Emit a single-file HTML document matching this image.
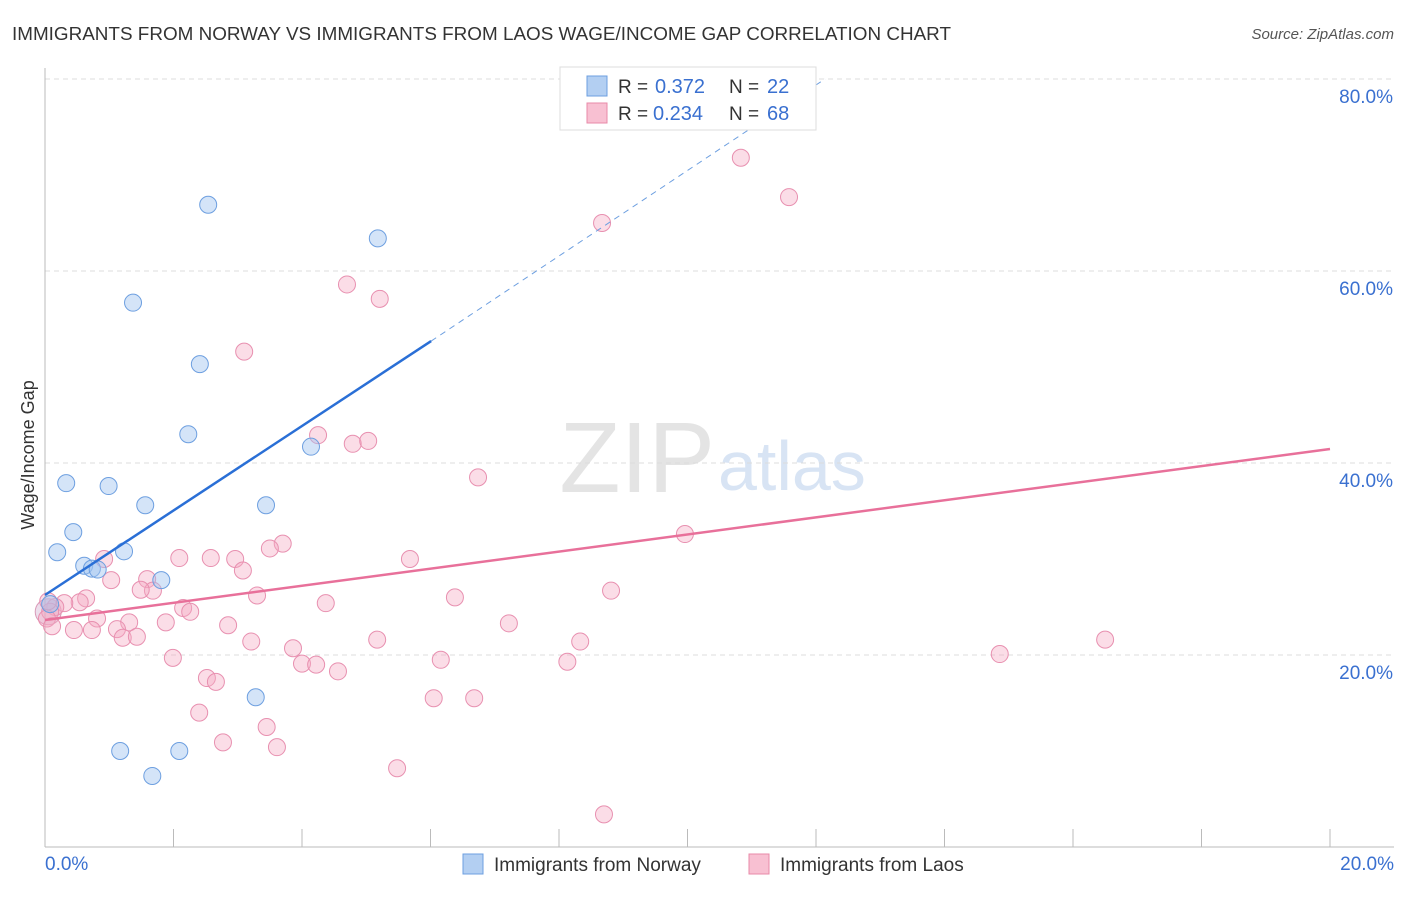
<!DOCTYPE html>
<html><head><meta charset="utf-8"><style>
body{margin:0;background:#fff;font-family:"Liberation Sans",sans-serif;}
svg text{font-family:"Liberation Sans",sans-serif;}
</style></head><body>
<svg width="1406" height="892" id="c">
<text x="12" y="40" font-size="18" fill="#333" textLength="939" lengthAdjust="spacingAndGlyphs">IMMIGRANTS FROM NORWAY VS IMMIGRANTS FROM LAOS WAGE/INCOME GAP CORRELATION CHART</text>
<text x="1394" y="39" font-size="15" fill="#555" font-style="italic" text-anchor="end">Source: ZipAtlas.com</text>
<text x="715" y="492" font-size="100" fill="#e4e4e4" font-family="Liberation Serif" text-anchor="end">ZIP</text>
<text x="718" y="490" font-size="70" fill="#d8e4f4">atlas</text>
<text transform="translate(34,455) rotate(-90)" font-size="18" fill="#333" text-anchor="middle">Wage/Income Gap</text>
<g id="grid"></g><g id="pts"></g><g id="lines"></g>
<g>
<rect x="560" y="67" width="256" height="63" fill="#fff" stroke="#ddd"/>
<rect x="587" y="76" width="20" height="20" fill="#b3cff2" stroke="#6d9fe0"/>
<rect x="587" y="103" width="20" height="20" fill="#f8c0d2" stroke="#e88aa8"/>
<text x="618" y="93" font-size="19" fill="#333">R =</text><text x="655" y="93" font-size="20" fill="#3a70d0">0.372</text>
<text x="729" y="93" font-size="19" fill="#333">N =</text><text x="767" y="93" font-size="20" fill="#3a70d0">22</text>
<text x="618" y="120" font-size="19" fill="#333">R =</text><text x="653" y="120" font-size="20" fill="#3a70d0">0.234</text>
<text x="729" y="120" font-size="19" fill="#333">N =</text><text x="767" y="120" font-size="20" fill="#3a70d0">68</text>
</g>
<g>
<rect x="463" y="854" width="20" height="20" fill="#b3cff2" stroke="#6d9fe0"/>
<text x="494" y="871" font-size="19" fill="#333">Immigrants from Norway</text>
<rect x="749" y="854" width="20" height="20" fill="#f8c0d2" stroke="#e88aa8"/>
<text x="780" y="871" font-size="19" fill="#333">Immigrants from Laos</text>
</g>
</svg>
<script>
const yTicks=[20,40,60,80];
const xTickLabels=["0.0%","20.0%"];
const norwayX=[0.33,0.19,0.44,0.61,0.73,0.82,0.99,1.23,1.37,1.56,1.81,2.23,2.41,2.54,3.44,4.14,5.18,3.28,1.17,2.09,1.67,0.08];
const norwayY=[37.9,30.7,32.8,29.3,29.0,28.9,37.6,30.8,56.7,35.6,27.8,43.0,50.3,66.9,35.6,41.7,63.4,15.6,10.0,10.0,7.4,25.3];
const laosX=[10.83,11.58,8.67,4.70,5.21,3.10,4.25,4.79,5.03,6.74,9.96,5.68,3.70,3.50,2.96,2.58,2.09,0.92,3.08,1.59,1.03,1.68,1.49,3.30,4.37,6.38,8.81,0.64,0.54,0.30,0.16,0.08,2.15,2.26,0.81,1.88,1.31,0.45,0.73,1.12,1.21,1.43,2.85,7.22,3.21,5.17,8.33,16.50,14.86,3.86,1.99,6.16,8.13,4.00,4.22,4.56,2.52,2.66,2.40,3.45,2.77,3.61,6.05,6.68,5.48,8.70,0.03,0.11,0.05];
const laosY=[71.8,67.7,65.0,58.6,57.1,51.6,42.9,42.0,42.3,38.5,32.6,30.0,31.6,31.1,30.0,30.1,30.1,30.0,28.8,27.9,27.8,26.7,26.8,26.2,25.4,26.0,26.7,25.9,25.5,25.4,25.0,24.5,24.9,24.5,23.8,23.4,23.4,22.6,22.6,22.7,21.8,21.9,23.1,23.3,21.4,21.6,21.4,21.6,20.1,20.7,19.7,19.5,19.3,19.1,19.0,18.3,17.6,17.2,14.0,12.5,10.9,10.4,15.5,15.5,8.2,3.4,23.8,23.0,25.6];
const norwayFit=[[0,26.25],[6.01,52.7]],norwayExt=[[6.01,52.7],[12.14,80]];
const laosFit=[[0,23.65],[20,41.46]];
const X=v=>45+v*64.25, Y=v=>847-v*9.6;
const NS="http://www.w3.org/2000/svg";
function mk(t,a,p){const e=document.createElementNS(NS,t);for(const k in a)e.setAttribute(k,a[k]);p.appendChild(e);return e;}
const g=document.getElementById('grid');
yTicks.forEach(t=>{
 const l=mk('line',{x1:45,x2:1394,y1:Y(t),y2:Y(t),stroke:'#ddd','stroke-dasharray':'5,4'},g);
 
 
 const tx=mk('text',{x:1393,y:Y(t)+24,'font-size':19,fill:'#3a70d0','text-anchor':'end'},g);tx.textContent=t.toFixed(1)+'%';
 
 
});
mk('line',{x1:45,x2:45,y1:68,y2:847,stroke:'#bbb'},g);
mk('line',{x1:45,x2:1394,y1:847,y2:847,stroke:'#bbb'},g);
for(let i=1;i<=10;i++){mk('line',{x1:X(i*2),x2:X(i*2),y1:829,y2:847,stroke:'#bbb'},g);}
const xl1=mk('text',{x:45,y:870,'font-size':19,fill:'#3a70d0'},g);xl1.textContent=xTickLabels[0];


const xl2=mk('text',{x:1394,y:870,'font-size':19,fill:'#3a70d0','text-anchor':'end'},g);xl2.textContent=xTickLabels[1];


const p=document.getElementById('pts');
mk('circle',{cx:X(0.05),cy:Y(24.5),r:13,fill:'rgba(200,160,200,0.35)',stroke:'#d99ab8'},p);
laosX.forEach((x,i)=>{const c=mk('circle',{cx:X(x),cy:Y(laosY[i]),r:8.5,fill:'rgba(245,170,195,0.4)',stroke:'#e890b0','stroke-width':1},p);
 
 });
norwayX.forEach((x,i)=>{const c=mk('circle',{cx:X(x),cy:Y(norwayY[i]),r:8.5,fill:'rgba(160,195,240,0.45)',stroke:'#6d9fe0','stroke-width':1},p);
 
 });
const L=document.getElementById('lines');
const a=mk('line',{x1:X(norwayFit[0][0]),y1:Y(norwayFit[0][1]),x2:X(norwayFit[1][0]),y2:Y(norwayFit[1][1]),stroke:'#2a6fd6','stroke-width':2.5},L);


const b=mk('line',{x1:X(norwayExt[0][0]),y1:Y(norwayExt[0][1]),x2:X(norwayExt[1][0]),y2:Y(norwayExt[1][1]),stroke:'#6d9fe0','stroke-width':1,'stroke-dasharray':'6,5'},L);


const c=mk('line',{x1:X(laosFit[0][0]),y1:Y(laosFit[0][1]),x2:X(laosFit[1][0]),y2:Y(laosFit[1][1]),stroke:'#e8709a','stroke-width':2.5},L);


</script>
</body></html>
